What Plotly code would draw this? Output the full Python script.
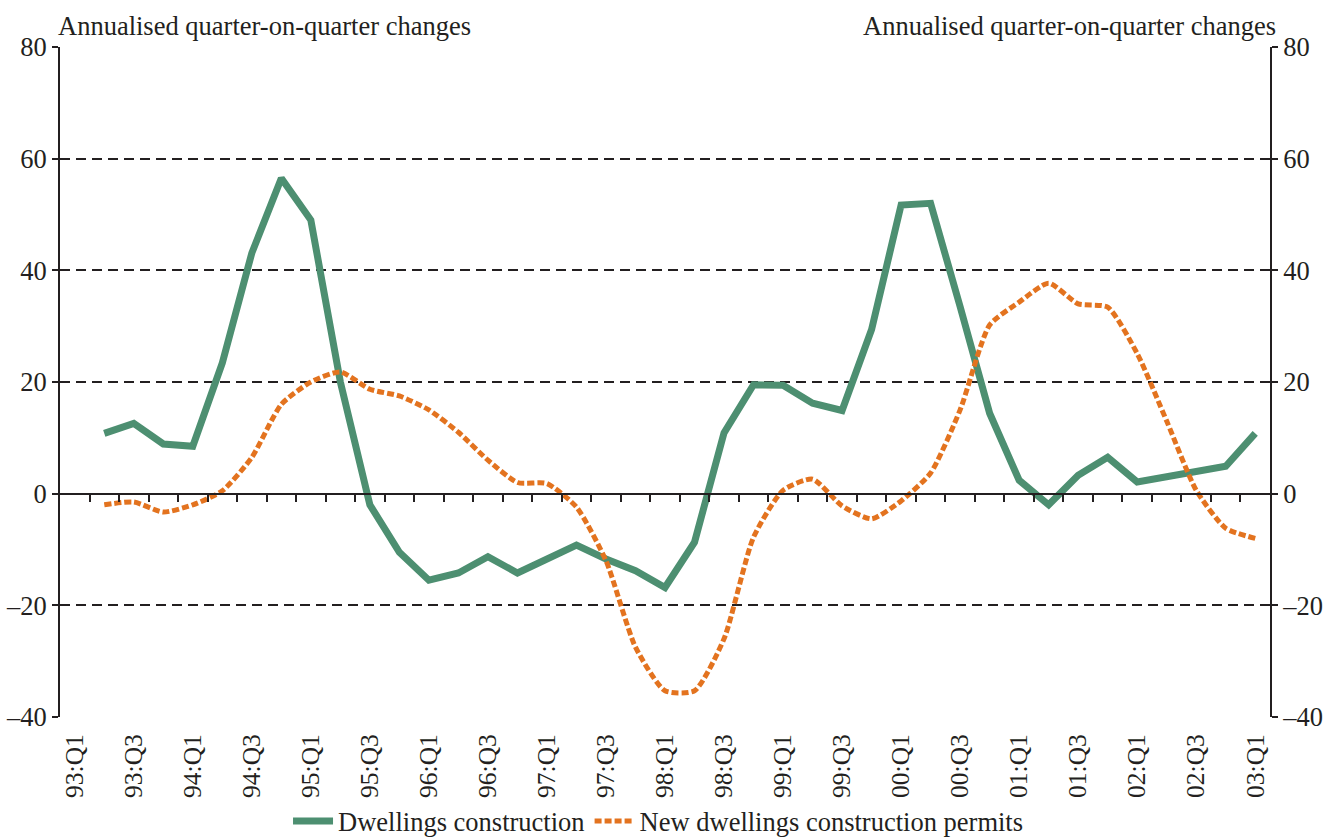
import plotly.graph_objects as go

quarters = [f"{y:02d}:Q{q}" for y in list(range(93, 100)) + [0, 1, 2] for q in range(1, 5)] + ["03:Q1"]

dwellings = [None, 10.8, 12.6, 8.9, 8.5, 23.4, 43.1, 56.5, 49.0, 20.0, -2.0,
             -10.5, -15.5, -14.2, -11.3, -14.2, -11.8, -9.2, -11.7, -13.8, -16.8,
             -8.7, 10.9, 19.5, 19.4, 16.2, 14.9, 29.4, 51.7, 52.0, 33.5,
             14.4, 2.4, -2.0, 3.3, 6.5, 2.1, 3.1, 4.0, 4.9, 10.8]

permits = [None, -2.0, -1.5, -3.3, -2.0, 0.5, 6.5, 16.0, 20.0, 21.8, 18.7,
           17.5, 15.0, 11.0, 6.0, 2.0, 1.8, -2.4, -12.0, -27.5, -35.3,
           -35.3, -26.0, -7.8, 0.6, 2.6, -2.2, -4.5, -1.3, 3.7, 15.0,
           30.2, 34.3, 37.7, 34.0, 33.4, 25.1, 13.0, 0.6, -6.2, -8.0]

y_ticks = [-40, -20, 0, 20, 40, 60, 80]
y_text = ["\u201340", "\u201320", "0", "20", "40", "60", "80"]
axis_title = "Annualised quarter-on-quarter changes"

idx = list(range(len(quarters)))
FONT = "Liberation Serif, Times New Roman, serif"
FS = 26.5
INK = "#231f20"
GREEN = "#4d8f71"
ORANGE = "#e3731f"

fig = go.Figure()
fig.add_trace(go.Scatter(x=idx, y=dwellings, mode="lines", name="Dwellings construction",
                         line=dict(color=GREEN, width=7), connectgaps=False,
                         xaxis="x", yaxis="y"))
fig.add_trace(go.Scatter(x=idx, y=permits, mode="lines", name="New dwellings construction permits",
                         line=dict(color=ORANGE, width=5, dash="7px,3px", shape="spline", smoothing=0.6),
                         xaxis="x2", yaxis="y2"))

xr = [-0.5, len(quarters) - 0.5]
yr = [-40, 80]
zero_pos = (0 - yr[0]) / (yr[1] - yr[0])

fig.update_layout(
    width=1325, height=839,
    margin=dict(l=60, r=55, t=47, b=122, autoexpand=False),
    paper_bgcolor="white", plot_bgcolor="white",
    font=dict(family=FONT, size=FS, color=INK),
    showlegend=True,
    legend=dict(orientation="h", x=0.497, xanchor="center", xref="container",
                y=0.021, yanchor="middle", yref="container", bgcolor="rgba(0,0,0,0)",
                font=dict(size=FS), itemwidth=40, tracegroupgap=0),
    xaxis=dict(range=xr, tickmode="array", tickvals=idx[::2], ticktext=quarters[::2],
               tickangle=-90, ticks="outside", ticklen=6, tickcolor="rgba(0,0,0,0)",
               showgrid=False, showline=False, zeroline=False,
               tickfont=dict(size=25.5), automargin=False),
    xaxis2=dict(range=xr, overlaying="x", anchor="free", position=zero_pos,
                tickmode="array", tickvals=[i - 0.5 for i in idx[1:]],
                ticks="outside", ticklen=7, tickwidth=2, tickcolor=INK,
                showticklabels=False, showline=True, linecolor=INK, linewidth=2,
                showgrid=False, zeroline=False, automargin=False),
    yaxis=dict(range=yr, tickmode="array", tickvals=y_ticks, ticktext=y_text,
               ticks="outside", ticklen=6, tickwidth=2, tickcolor=INK,
               showline=True, linecolor=INK, linewidth=2,
               showgrid=True, gridcolor=INK, gridwidth=2, griddash="10px,6px",
               zeroline=False, tickfont=dict(size=FS), automargin=False),
    yaxis2=dict(range=yr, overlaying="y", side="right", anchor="x2",
                tickmode="array", tickvals=y_ticks, ticktext=y_text,
                ticks="outside", ticklen=6, tickwidth=2, tickcolor=INK,
                showline=True, linecolor=INK, linewidth=2,
                showgrid=False, zeroline=False, tickfont=dict(size=FS), automargin=False),
    annotations=[
        dict(text=axis_title, xref="paper", yref="paper", x=-0.003, y=1.0, xanchor="left",
             yanchor="bottom", yshift=4, showarrow=False, font=dict(size=FS)),
        dict(text=axis_title, xref="paper", yref="paper", x=1.007, y=1.0, xanchor="right",
             yanchor="bottom", yshift=4, showarrow=False, font=dict(size=FS)),
    ],
)

# remove the browser's default 8px page margin so the 1325x839 figure fills the window exactly
fig.write_html("out.html", config={"displayModeBar": False},
               post_script="document.body.style.margin='0';document.documentElement.style.overflow='hidden';")
